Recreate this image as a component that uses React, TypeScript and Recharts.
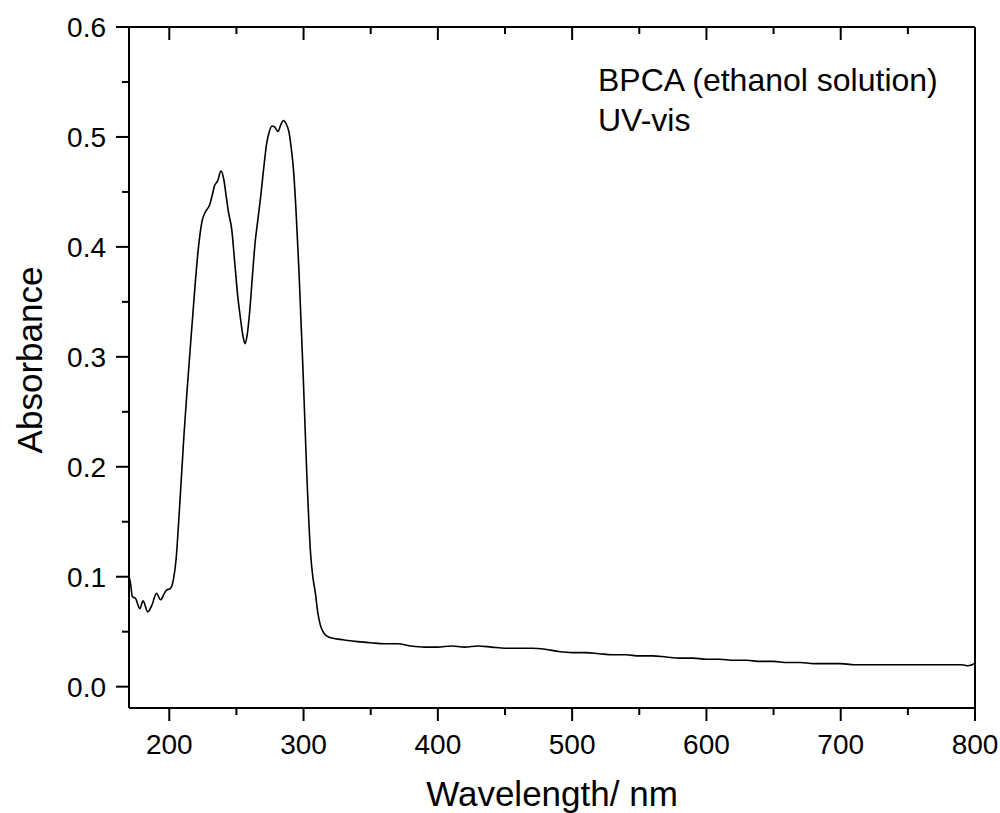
import React from "react";
import { LineChart, Line, XAxis, YAxis } from "recharts";

// wavelength (nm) and absorbance
const wavelength = [
    170, 171, 172.5, 175, 178, 180.5, 184, 187, 190.5, 193.5, 196, 198, 200.5, 202, 203, 205, 207, 209, 211, 213,
    215.5, 218, 221.5, 224.5, 227, 230, 232, 233.5, 236, 238.5, 240.5, 242.5, 244, 246.5, 249, 251, 253, 255, 256.5,
    258, 260, 262, 264, 266, 268, 270, 272.5, 274.5, 276.5, 278.5, 281, 283, 285, 287, 289, 291, 292.5, 294.5, 296.5,
    298, 299.5, 301, 302.5, 304, 305, 306, 307, 308.8, 310.5, 312.5, 315, 317.5, 322, 327.5, 333, 340, 350, 360, 370,
    380, 390, 400, 410, 420, 430, 440, 450, 460, 470, 480, 490, 500, 510, 520, 530, 540, 550, 560, 570, 580, 590, 600,
    610, 620, 630, 640, 650, 660, 670, 680, 690, 700, 710, 720, 730, 740, 750, 760, 770, 780, 790, 795, 800
];

const absorbance = [
    0.1, 0.095, 0.082, 0.08, 0.071, 0.078, 0.068, 0.074, 0.085, 0.079, 0.084, 0.088, 0.089, 0.092, 0.097, 0.115, 0.15,
    0.19, 0.23, 0.265, 0.306, 0.346, 0.397, 0.424, 0.432, 0.438, 0.447, 0.455, 0.46, 0.469, 0.462, 0.445, 0.432, 0.416,
    0.382, 0.355, 0.335, 0.318, 0.312, 0.32, 0.343, 0.375, 0.405, 0.425, 0.445, 0.468, 0.494, 0.505, 0.51, 0.509, 0.505,
    0.511, 0.515, 0.512, 0.505, 0.488, 0.47, 0.43, 0.38, 0.335, 0.29, 0.24, 0.19, 0.148, 0.125, 0.11, 0.099, 0.085,
    0.068, 0.056, 0.049, 0.046, 0.044, 0.043, 0.042, 0.041, 0.04, 0.039, 0.039, 0.037, 0.036, 0.036, 0.037, 0.036,
    0.037, 0.036, 0.035, 0.035, 0.035, 0.034, 0.032, 0.031, 0.031, 0.03, 0.029, 0.029, 0.028, 0.028, 0.027, 0.026,
    0.026, 0.025, 0.025, 0.024, 0.024, 0.023, 0.023, 0.022, 0.022, 0.021, 0.021, 0.021, 0.02, 0.02, 0.02, 0.02, 0.02,
    0.02, 0.02, 0.02, 0.02, 0.019, 0.021
];

const xTicks = [200, 250, 300, 350, 400, 450, 500, 550, 600, 650, 700, 750, 800];
const yTicks = [0, 0.05, 0.1, 0.15, 0.2, 0.25, 0.3, 0.35, 0.4, 0.45, 0.5, 0.55, 0.6];

const data = wavelength.map((w, i) => ({ w, a: absorbance[i] }));

const FONT = "'Liberation Sans', Arial, sans-serif";

const isMajorX = (v: number) => v % 100 === 0;
const isMajorY = (v: number) => Math.round(v * 100) % 10 === 0;

const BottomTick = (props: any) => {
    const { x, y, payload } = props;
    const major = isMajorX(payload.value);
    return (
        <g>
            <line x1={x} x2={x} y1={y} y2={y + (major ? 13 : 7)} stroke="#000" strokeWidth={2} />
            {major && (
                <text x={x} y={y + 46} textAnchor="middle" fontSize={28} fontFamily={FONT} fill="#000">
                    {payload.value}
                </text>
            )}
        </g>
    );
};

const TopTick = (props: any) => {
    const { x, y, payload } = props;
    const major = isMajorX(payload.value);
    return <line x1={x} x2={x} y1={y} y2={y + (major ? 13 : 7)} stroke="#000" strokeWidth={2} />;
};

const LeftTick = (props: any) => {
    const { x, y, payload } = props;
    const major = isMajorY(payload.value);
    return (
        <g>
            <line x1={x - (major ? 13 : 7)} x2={x} y1={y} y2={y} stroke="#000" strokeWidth={2} />
            {major && (
                <text x={x - 23} y={y + 10} textAnchor="end" fontSize={28} fontFamily={FONT} fill="#000">
                    {payload.value.toFixed(1)}
                </text>
            )}
        </g>
    );
};

const App: React.FC = () => {
    return (
        <div style={{ position: "absolute", left: 0, top: 0, width: 1000, height: 813, background: "#fff" }}>
            <LineChart width={1000} height={813} data={data} margin={{ top: 7, right: 20, bottom: 45, left: 69 }}>
                <XAxis
                    xAxisId="b"
                    dataKey="w"
                    type="number"
                    domain={[170, 800]}
                    ticks={xTicks}
                    interval={0}
                    height={60}
                    tickSize={0}
                    tickMargin={0}
                    tick={<BottomTick />}
                    axisLine={{ stroke: "#000", strokeWidth: 2 }}
                    allowDataOverflow
                />
                <XAxis
                    xAxisId="t"
                    orientation="top"
                    dataKey="w"
                    type="number"
                    domain={[170, 800]}
                    ticks={xTicks}
                    interval={0}
                    height={20}
                    tickSize={0}
                    tickMargin={0}
                    tick={<TopTick />}
                    axisLine={{ stroke: "#000", strokeWidth: 2 }}
                    allowDataOverflow
                />
                <YAxis
                    yAxisId="l"
                    type="number"
                    domain={[-0.0194, 0.6]}
                    ticks={yTicks}
                    interval={0}
                    width={60}
                    tickSize={0}
                    tickMargin={0}
                    tick={<LeftTick />}
                    axisLine={{ stroke: "#000", strokeWidth: 2 }}
                    allowDataOverflow
                />
                <YAxis
                    yAxisId="r"
                    orientation="right"
                    type="number"
                    domain={[-0.0194, 0.6]}
                    width={5}
                    tick={false}
                    tickLine={false}
                    axisLine={{ stroke: "#000", strokeWidth: 2 }}
                    allowDataOverflow
                />
                <Line
                    xAxisId="b"
                    yAxisId="l"
                    type="monotone"
                    dataKey="a"
                    stroke="#000"
                    strokeWidth={1.6}
                    dot={false}
                    isAnimationActive={false}
                />
            </LineChart>
            <svg
                width={1000}
                height={813}
                style={{ position: "absolute", left: 0, top: 0, pointerEvents: "none" }}
                fontFamily={FONT}
            >
                <text x={598} y={91} fontSize={32} fill="#000">BPCA (ethanol solution)</text>
                <text x={598} y={131} fontSize={32} fill="#000">UV-vis</text>
                <text x={552} y={806} fontSize={35} textAnchor="middle" fill="#000">Wavelength/ nm</text>
                <text x={42} y={360} fontSize={35} textAnchor="middle" fill="#000" transform="rotate(-90 42 360)">
                    Absorbance
                </text>
            </svg>
        </div>
    );
};

export default App;
